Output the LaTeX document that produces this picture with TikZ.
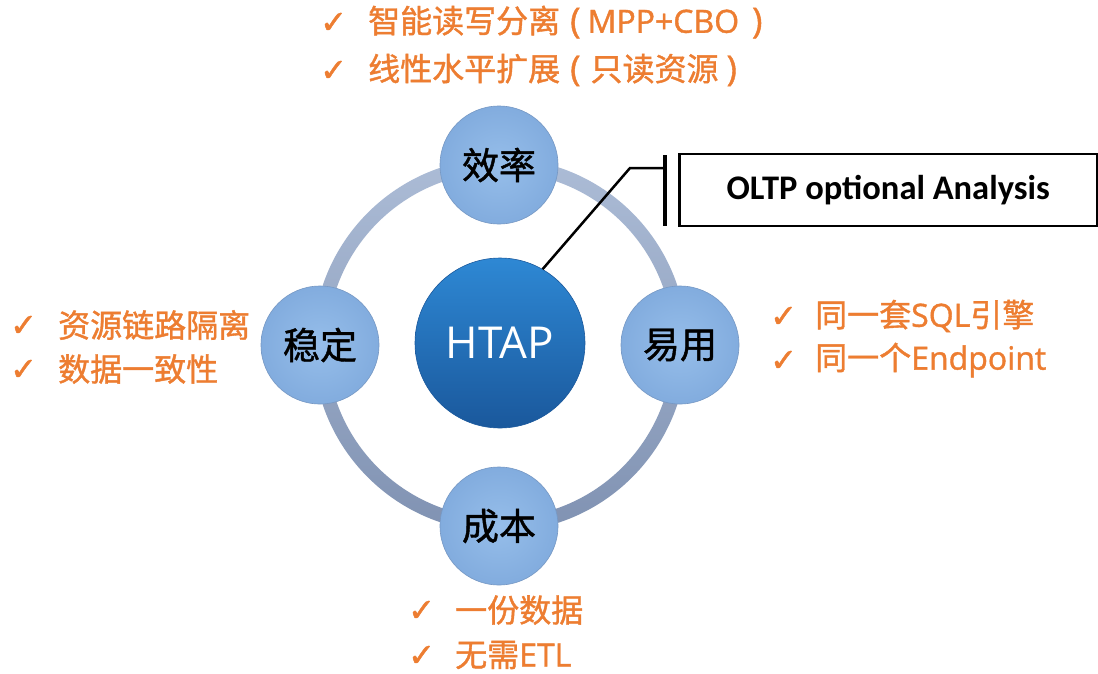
\documentclass[tikz,border=0pt]{standalone}
\usepackage{fontspec}
\newfontfamily\cjk[FakeBold=1.2]{Noto Sans CJK SC}
\newfontfamily\lat[FakeBold=1.2]{Open Sans}
\newfontfamily\tickfont[FakeBold=1.5]{DejaVu Sans}
\newfontfamily\calib{Carlito}
\newfontfamily\hubfont{Open Sans}
\definecolor{accent}{RGB}{237,125,49}
\definecolor{ringtop}{RGB}{172,188,214}
\definecolor{ringbot}{RGB}{128,146,178}
\definecolor{satin}{RGB}{150,190,234}
\definecolor{satout}{RGB}{130,172,222}
\definecolor{satedge}{RGB}{118,152,196}
\definecolor{hubtop}{RGB}{46,136,212}
\definecolor{hubbot}{RGB}{26,88,156}
\newcommand\lpar{\hspace{10pt}{\lat\fontsize{35}{35}\selectfont (}}
\newcommand\rpar{{\lat\fontsize{35}{35}\selectfont )}}
\tikzset{
  sat/.style={circle, minimum size=118pt, inner sep=0pt, inner color=satin, outer color=satout,
    draw=satedge, line width=0.6pt, font=\cjk\fontsize{37}{37}\selectfont, text=black},
  hub/.style={circle, minimum size=170pt, inner sep=0pt, top color=hubtop, bottom color=hubbot,
    draw=hubbot, line width=0.6pt, font=\hubfont\fontsize{44}{44}\selectfont, text=white},
  tick/.style={anchor=west, inner sep=0pt, text=accent, font=\tickfont\fontsize{32}{32}\selectfont},
  item/.style={anchor=west, inner sep=0pt, text=accent, font=\cjk\fontsize{32}{32}\selectfont},
  callout/.style={draw=black, line width=2.5pt},
}
\begin{document}
\begin{tikzpicture}[x=1pt,y=-1pt]
\useasboundingbox (0,0) rectangle (1098,673);
\fill[white] (0,0) rectangle (1098,673);

% ring joining the four aspects
\shade[even odd rule, top color=ringtop, bottom color=ringbot]
  (500,345) circle[radius=187] (500,345) circle[radius=173];

% aspects and hub
\node[sat] (eff) at (499,165) {效率};
\node[sat] (sta) at (320,345) {稳定};
\node[sat] (use) at (680,345) {易用};
\node[sat] (cost) at (499,526) {成本};
\node[hub] (htap) at (500,343) {HTAP};

% callout
\node[draw=black, line width=2.5pt, minimum width=418pt, minimum height=72pt, anchor=west,
      font=\calib\bfseries\fontsize{34.5}{34.5}\selectfont] (box) at (678,190) {OLTP optional Analysis};
\coordinate (bartop) at (665,155);
\coordinate (barbot) at (665,226);
\coordinate (barjoin) at (665,168);
\coordinate (bend) at (630,168);
\draw[line width=3.5pt] (bartop) -- (barbot);
\draw[callout] (htap.60) -- (bend) -- (barjoin);

% top list
\node[tick] (t1) at (320,23) {✓};
\node[item] (i1) at (368,22) {智能读写分离\lpar\hspace{7pt}{\lat MPP+CBO}\hspace{13pt}\rpar};
\node[tick] (t2) at (320,71) {✓};
\node[item] (i2) at (368,70) {线性水平扩展\lpar\hspace{10pt}只读资源\hspace{8pt}\rpar};

% left list
\node[tick] (t3) at (10,326) {✓};
\node[item] (i3) at (58,325) {资源链路隔离};
\node[tick] (t4) at (10,370) {✓};
\node[item] (i4) at (58,369) {数据一致性};

% right list
\node[tick] (t5) at (770,317) {✓};
\node[item] (i5) at (815,316) {同一套{\lat SQL}引擎};
\node[tick] (t6) at (770,361) {✓};
\node[item] (i6) at (815,360) {同一个{\lat Endpoint}};

% bottom list
\node[tick] (t7) at (408,611) {✓};
\node[item] (i7) at (455,610) {一份数据};
\node[tick] (t8) at (408,656) {✓};
\node[item] (i8) at (455,655) {无需{\lat ETL}};
\end{tikzpicture}
\end{document}
